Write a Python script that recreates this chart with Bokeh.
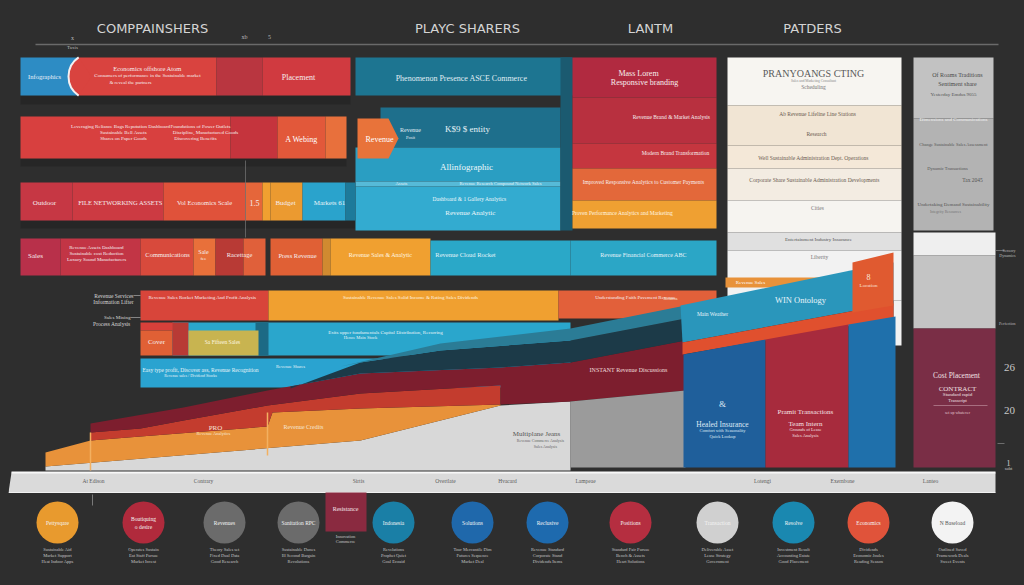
from bokeh.plotting import figure
from bokeh.models import ColumnDataSource, Range1d
from bokeh.embed import file_html
from bokeh.resources import INLINE
from bokeh.core.properties import value

BG = "#2e2e2e"
W, H = 1008, 569

# ---------------- headers ----------------
headers = ["COMPPAINSHERS", "PLAYC SHARERS", "LANTM", "PATDERS"]
header_pos = [152, 467, 650, 812]

# ---------------- blocks: (start, end, top, bottom, colour) ----------------
panel_blocks = [
    (727, 901, 57, 105, "#f7f5f1"), (727, 901, 105, 145, "#f1e5d4"),
    (727, 901, 145, 168, "#f4e8d8"), (727, 901, 168, 200, "#f3ece2"),
    (727, 901, 200, 232, "#f6f4f0"), (727, 901, 232, 250, "#e0e0e0"),
    (727, 901, 250, 300, "#f2f2f2"), (893, 901, 300, 345, "#f2f2f2"),
    (913, 993, 57, 118, "#c2c2c2"), (913, 993, 118, 230, "#b3b3b3"),
    (913, 995, 232, 255, "#efefef"), (913, 995, 255, 328, "#c4c4c4"),
    (913, 995, 328, 467, "#7a2e46"),
]
mid_blocks = [
    (355, 572, 57, 95, "#1d7591"),
    (380, 560, 107, 147, "#1e6f8c"),
    (355, 560, 147, 181, "#2a9ec2"),
    (355, 560, 181, 186, "#56bad8"),
    (355, 560, 186, 230, "#33abd0"),
    (560, 572, 57, 230, "#1b5a70"),
    (572, 716, 57, 97, "#b12a40"), (572, 716, 97, 143, "#b8303f"),
    (572, 716, 143, 168, "#c5363f"), (572, 716, 168, 200, "#e3683a"),
    (572, 716, 200, 228, "#efa032"),
]
row1_blocks = [
    (20, 78, 57, 95, "#2d8cc4"), (78, 216, 57, 95, "#d9433f"),
    (216, 262, 57, 95, "#b93640"), (262, 350, 57, 95, "#d03a40"),
]
row2_blocks = [
    (20, 230, 116, 158, "#d8403f"), (230, 277, 116, 158, "#c5343d"),
    (277, 325, 116, 158, "#e2583a"), (325, 346, 116, 158, "#e8703c"),
]
row3_blocks = [
    (20, 72, 182, 220, "#c63744"), (72, 163, 182, 220, "#cc3a42"),
    (163, 245, 182, 220, "#e0523a"), (245, 262, 182, 220, "#e5663a"),
    (262, 270, 182, 220, "#f0a030"), (270, 302, 182, 220, "#eb9a30"),
    (302, 345, 182, 220, "#2aa3cc"), (345, 355, 182, 220, "#1d7a9a"),
]
row4_blocks = [
    (20, 60, 238, 275, "#b8304a"), (60, 140, 238, 275, "#c23545"),
    (140, 193, 238, 275, "#d84a3c"), (193, 215, 238, 275, "#e8703a"),
    (215, 243, 238, 275, "#b83a35"), (243, 265, 238, 275, "#e0603a"),
    (270, 322, 238, 275, "#e06035"), (322, 330, 238, 275, "#d08a30"),
    (330, 430, 238, 275, "#f0a030"), (430, 570, 240, 275, "#2aa8c8"),
    (570, 716, 240, 275, "#2ba6c6"),
]
row567_blocks = [
    (140, 268, 290, 320, "#d8453a"), (268, 558, 290, 320, "#f0a030"),
    (558, 716, 290, 318, "#e2603a"),
    (172, 570, 322, 355, "#2aa6cc"), (255, 268, 322, 355, "#1c6a85"),
    (140, 173, 322, 330, "#d8403a"), (140, 172, 330, 355, "#e06035"),
    (172, 188, 322, 355, "#b83a35"), (188, 258, 330, 355, "#c8b450"),
    (140, 570, 358, 387, "#2aa3d0"),
    (725, 850, 277, 287, "#e8923a"),
]

# ---------------- area layers (x, y) ----------------
area_light = [(45, 470), (45, 466), (360, 440), (500, 405), (570, 401), (570, 470)]
area_orange = [(45, 466), (45, 452), (90, 440), (140, 436), (267, 426), (272, 412),
               (360, 408), (500, 404), (500, 405), (360, 440)]
area_red = [(90, 440), (90, 432), (140, 428), (183, 420), (267, 405), (360, 393),
            (500, 385), (500, 404), (360, 408), (272, 412), (267, 426), (140, 436)]
area_maroon = [(90, 432), (90, 423), (183, 407), (267, 390), (360, 373), (500, 367),
               (570, 362), (685, 340), (685, 390), (570, 401), (500, 404), (500, 385),
               (360, 393), (267, 405), (183, 420), (140, 428)]
area_dark = [(290, 388), (360, 362), (440, 350), (570, 340), (685, 318), (685, 340),
             (570, 362), (500, 367), (360, 373), (290, 386)]
area_teal = [(340, 366), (440, 343), (570, 328), (685, 305), (685, 318), (570, 340),
             (440, 350), (360, 362)]
area_grey = [(570, 401), (685, 390), (685, 467), (570, 467)]
right_teal = [(680, 305), (850, 270), (893, 262), (893, 303), (682, 342)]
right_band = [(682, 342), (893, 303), (893, 318), (682, 354)]
right_blue1 = [(683, 354), (765, 339), (765, 467), (683, 467)]
right_red = [(765, 339), (848, 324), (848, 467), (765, 467)]
right_blue2 = [(848, 324), (895, 316), (895, 467), (848, 467)]
right_orange = [(852, 262), (893, 252), (893, 305), (852, 312)]
pentagon = [(357, 118), (388, 118), (398, 138), (388, 158), (357, 158)]
base_bar = [(8, 492), (11, 472), (995, 472), (995, 492)]
area_colors = ["#d8d8d8", "#e8923a", "#c33c2e", "#7d1e2e", "#1c3a48", "#2b7c96", "#9b9b9b",
               "#2a96bb", "#e0502e", "#1f5f9b", "#a72b3d", "#1f70ab", "#e05a30", "#e8733a",
               "#dadada"]

# ---------------- circles ----------------
circle_pos = [57, 143, 224, 298, 393, 472, 547, 630, 717, 793, 868, 952]
circle_colors = ["#e89a2e", "#b02a3c", "#6b6b6b", "#6b6b6b", "#1a7fa6", "#1f68ab",
                 "#1e6aae", "#b52e40", "#d0d0d0", "#1a88b0", "#e0533a", "#f3f3f3"]
circle_labels = ["Pettysqare", "Boutiquing", "Revenues", "Sanitation RPC", "Indonesia",
                 "Solutions", "Reclusive", "Positions", "Transaction", "Resolve",
                 "Economics", "N Baseload"]
circle_notes = [
    ["Sustainable Aid", "Market Support", "Heat Indoor Apps"],
    ["Operates Sustain", "Eat Staff Pursue", "Market Invest"],
    ["Theory Sales set", "Fixed Dual Data", "Good Research"],
    ["Sustainable Dunes", "Ill Second Bargain", "Revolutions"],
    ["Revelations", "Prophet Quiet", "Goal Ecoaid"],
    ["Tour Mercantile Dim", "Futures Sequence", "Market Deal"],
    ["Revenue Standard", "Corporate Stand", "Dividends Items"],
    ["Standard Fair Pursue", "Bench & Assets", "Heart Solutions"],
    ["Deliverable Asset", "Lease Strategy", "Government"],
    ["Investment Result", "Accounting Estate", "Good Placement"],
    ["Dividends", "Economic Joules", "Reading Season"],
    ["Outlined Saved", "Framework Deals", "Sweet Events"],
]
base_labels = ["At Edison", "Contrary", "Sirtis", "Overtlate", "Hvacard", "Lampeae",
               "Lotengi", "Exernbone", "Lanteo"]
base_label_pos = [93, 203, 358, 445, 507, 585, 762, 842, 930]

# ---------------- text items: (x, y, text, size, colour, align) ----------------
W_ = "#f6eeee"
row_texts = [
    (44, 76, "Infographics", 6.5, "#e8f0f8", "center"),
    (147, 68, "Economics offshore Atom", 6.5, W_, "center"),
    (147, 75, "Consumers of performance in the Sustainable market", 5, W_, "center"),
    (130, 82, "& reveal the partners", 5, W_, "center"),
    (298, 77, "Placement", 8, W_, "center"),
    (461, 78, "Phenomenon Presence ASCE Commerce", 8, "#e0eef4", "center"),
    (638, 73, "Mass Lorem", 8, W_, "center"),
    (644, 82, "Responsive branding", 8, W_, "center"),
    (671, 116, "Revenue Brand & Market Analysis", 5.5, W_, "center"),
    (675, 152, "Modern Brand Transformation", 5.5, W_, "center"),
    (643, 181, "Improved Responsive Analytics to Customer Payments", 5.5, W_, "center"),
    (622, 212, "Proven Performance Analytics and Marketing", 5.5, "#fff6e0", "center"),
    (410, 129, "Revenue", 6, "#e0eef4", "center"),
    (410, 137, "Posit", 4.5, "#e0eef4", "center"),
    (467, 128, "K$9 $ entity", 9, "#e8f4f8", "center"),
    (466, 166, "Allinfographic", 9, "#eef8fb", "center"),
    (401, 183, "Assets", 4.5, "#e8f4f8", "center"),
    (500, 183, "Revenue Research Compound Network Sales", 4.5, "#e8f4f8", "center"),
    (469, 198, "Dashboard & 1 Gallery Analytics", 5.5, "#eef8fb", "center"),
    (470, 212, "Revenue Analytic", 7, "#eef8fb", "center"),
    (379, 139, "Revenue", 8, "#ffffff", "center"),
    (120, 126, "Leveraging Reliance Bags Reputation Dashboard", 5, W_, "center"),
    (123, 132, "Sustainable Bell Assets", 5, W_, "center"),
    (123, 138, "Shares on Paper Goods", 5, W_, "center"),
    (200, 126, "Foundations of Power Outlets", 5, W_, "center"),
    (205, 132, "Discipline, Manufactured Goods", 5, W_, "center"),
    (195, 138, "Discovering Benefits", 5, W_, "center"),
    (301, 139, "A Webing", 8, "#ffffff", "center"),
    (44, 202, "Outdoor", 7, W_, "center"),
    (120, 202, "FILE NETWORKING ASSETS", 6.5, W_, "center"),
    (204, 202, "Vol Economics Scale", 6.5, W_, "center"),
    (254, 202, "1.5", 8, W_, "center"),
    (285, 202, "Budget", 7, W_, "center"),
    (329, 202, "Markets 61", 7, "#e8f4f8", "center"),
    (35, 255, "Sales", 7, W_, "center"),
    (96, 247, "Revenue Assets Dashboard", 5, W_, "center"),
    (96, 253, "Sustainable cost Reduction", 5, W_, "center"),
    (96, 259, "Luxury Sound Manufacturers", 5, W_, "center"),
    (167, 254, "Communications", 6.5, W_, "center"),
    (203, 251, "Sale", 6, W_, "center"),
    (203, 258, "fee", 5, W_, "center"),
    (239, 254, "Racettage", 6.5, W_, "center"),
    (297, 255, "Press Revenue", 6.5, W_, "center"),
    (380, 254, "Revenue Sales & Analytic", 6, "#fff6e0", "center"),
    (465, 254, "Revenue Cloud Rocket", 6.5, "#e6f4fa", "center"),
    (643, 254, "Revenue Financial Commerce ABC", 6, "#e6f4fa", "center"),
    (202, 297, "Revenue Sales Rocket Marketing And Profit Analysis", 5, W_, "center"),
    (410, 297, "Sustainable Revenue Sales Solid Income & Rating Sales Dividends", 5, "#fff6e0", "center"),
    (635, 297, "Understanding Faith Pavement Revenue", 5, W_, "center"),
    (156, 341, "Cover", 7, W_, "center"),
    (222, 341, "Sa Fifteen Sales", 5.5, "#fff6e0", "center"),
    (385, 332, "Exits upper fundamentals Capital Distribution, Recurring", 5, "#e8f4f8", "center"),
    (360, 337, "Hence Main Stock", 4.5, "#e8f4f8", "center"),
    (200, 369, "Easy type profit, Discover ass, Revenue Recognition", 5.5, "#e8f4f8", "center"),
    (190, 375, "Revenue sales / Dividend Stocks", 4, "#e8f4f8", "center"),
    (290, 366, "Revenue Shares", 4.5, "#e8f4f8", "center"),
    (133, 295, "Revenue Services", 5.5, "#d8d8d8", "right"),
    (133, 301, "Information Lifter", 5.5, "#d8d8d8", "right"),
    (130, 317, "Sales Mining", 5, "#d8d8d8", "right"),
    (130, 323, "Process Analysis", 5.5, "#d8d8d8", "right"),
]
area_texts = [
    (215, 427, "PRO", 7, "#f6e6d6", "center"),
    (213, 433, "Revenue Analytics", 4.5, "#f6e6d6", "center"),
    (303, 426, "Revenue Credits", 6, "#f6e6d6", "center"),
    (536, 433, "Multiplane Jeans", 7, "#555555", "center"),
    (540, 440, "Revenue Commerce Analysis", 4, "#666666", "center"),
    (545, 446, "Sales Analysis", 4, "#666666", "center"),
    (628, 369, "INSTANT Revenue Discussions", 6, "#f0dede", "center"),
    (800, 299, "WIN Ontology", 8.5, "#e8f4fa", "center"),
    (712, 313, "Main Weather", 5.5, "#e8f4fa", "center"),
    (722, 403, "&", 9, "#dde8f4", "center"),
    (722, 424, "Healed Insurance", 7.5, "#dde8f4", "center"),
    (722, 430, "Comfort with Seasonality", 4.5, "#dde8f4", "center"),
    (722, 436, "Quick Lookup", 4.5, "#dde8f4", "center"),
    (805, 411, "Pramit Transactions", 7, "#f4e0e4", "center"),
    (805, 423, "Team Intern", 7, "#f4e0e4", "center"),
    (805, 429, "Grounds of Lease", 4.5, "#f4e0e4", "center"),
    (805, 435, "Sales Analysis", 4.5, "#f4e0e4", "center"),
    (868, 276, "8", 8, "#fbe6dc", "center"),
    (868, 285, "Location", 5, "#fbe6dc", "center"),
    (750, 282, "Revenue Sales", 5, "#ffffff", "center"),
    (670, 298, "Returns", 4.5, "#f6e6d6", "center"),
]
panel_texts = [
    (813, 73, "PRANYOANGS CTING", 10, "#5a5a5a", "center"),
    (813, 80, "Sales and Marketing Consultant", 3.5, "#888888", "center"),
    (813, 86, "Scheduling", 5.5, "#777777", "center"),
    (817, 113, "Ab Revenue Lifeline Line Stations", 5.5, "#6a5a50", "center"),
    (816, 133, "Research", 5.5, "#6a5a50", "center"),
    (813, 157, "Well Sustainable Administration Dept. Operations", 5.5, "#6a5a50", "center"),
    (814, 179, "Corporate Share Sustainable Administration Developments", 5.5, "#6a5a50", "center"),
    (817, 207, "Cities", 5.5, "#777777", "center"),
    (818, 239, "Entertainment Industry Insurance", 5, "#555555", "center"),
    (819, 256, "Libertty", 5.5, "#777777", "center"),
    (957, 74, "Of Roams Traditions", 6, "#4a4a4a", "center"),
    (957, 83, "Sentiment share", 6, "#4a4a4a", "center"),
    (953, 94, "Yesterday Emdus 9055", 5, "#555555", "center"),
    (953, 119, "Dimensions and Communications", 5, "#f4f4f4", "center"),
    (953, 144, "Change Sustainable Sales Assessment", 4.5, "#555555", "center"),
    (947, 168, "Dynamic Transactions", 4.5, "#555555", "center"),
    (972, 179, "Tax 2045", 5.5, "#555555", "center"),
    (953, 204, "Undertaking Demand Sustainability", 5, "#555555", "center"),
    (945, 211, "Integrity Resources", 4, "#777777", "center"),
    (956, 375, "Cost Placement", 7.5, "#f0e0e4", "center"),
    (957, 388, "CONTRACT", 7, "#f0e0e4", "center"),
    (957, 394, "Standard rapid", 5, "#f0e0e4", "center"),
    (957, 400, "Transcript", 4.5, "#f0e0e4", "center"),
    (957, 412, "set up whatever", 4, "#e0c8d0", "center"),
    (1015, 250, "Sensory", 4, "#bbbbbb", "right"),
    (1015, 255, "Dynamics", 4, "#bbbbbb", "right"),
    (1015, 323, "Perfection", 4, "#bbbbbb", "right"),
    (1009, 367, "26", 11, "#c8c8c8", "center"),
    (1009, 410, "20", 11, "#c8c8c8", "center"),
    (1008, 462, "1", 9, "#c8c8c8", "center"),
    (1008, 468, "subt", 4.5, "#c8c8c8", "center"),
    (72, 37, "x", 6, "#bbbbbb", "center"),
    (72, 47, "Taxis", 5, "#bbbbbb", "center"),
    (244, 36, "xb", 6, "#bbbbbb", "center"),
    (269, 36, "5", 6, "#bbbbbb", "center"),
    (345, 508, "Resistance", 6, "#f6e6ea", "center"),
    (345, 536, "Innovation", 4.5, "#c8c8c8", "center"),
    (345, 541, "Commerce", 4.5, "#c8c8c8", "center"),
]

# ---------------- figure ----------------
p = figure(width=W, height=H, x_range=Range1d(8, 8 + W), y_range=Range1d(8 + H, 8),
           x_axis_type=None, y_axis_type=None, toolbar_location=None,
           output_backend="svg", min_border=0)
p.background_fill_color = BG
p.border_fill_color = BG
p.outline_line_color = None
p.grid.visible = False


def draw_blocks(blocks, alpha=1.0):
    src = ColumnDataSource(dict(
        left=[b[0] for b in blocks], right=[b[1] for b in blocks],
        top=[b[2] for b in blocks], bottom=[b[3] for b in blocks],
        color=[b[4] for b in blocks]))
    p.quad(left="left", right="right", top="top", bottom="bottom", fill_color="color",
           line_color=None, fill_alpha=alpha, source=src)


def draw_polys(polys, colors):
    p.patches(xs=[[pt[0] for pt in pl] for pl in polys],
              ys=[[pt[1] for pt in pl] for pl in polys],
              fill_color=colors, line_color=None)


# soft shadows under the first rows
draw_blocks([(20, 350, 95, 104, "#262626"), (20, 346, 158, 166, "#262626"),
             (20, 355, 220, 228, "#262626")])
draw_blocks(panel_blocks)
draw_blocks(mid_blocks)
draw_blocks(row1_blocks)
# curved white edge between the blue and red segments of the first row
p.wedge(x=[91], y=[76], radius=23, start_angle=124, end_angle=236, start_angle_units="deg",
        end_angle_units="deg", fill_color="#d9433f", line_color=None)
p.arc(x=[91], y=[76], radius=23, start_angle=124, end_angle=236, start_angle_units="deg",
      end_angle_units="deg", line_color="#f4f0f0", line_width=2)
draw_blocks(row2_blocks)
draw_blocks(row3_blocks)
draw_blocks(row4_blocks)
draw_blocks(row567_blocks)

polys = [area_light, area_orange, area_red, area_maroon, area_dark, area_teal, area_grey,
         right_teal, right_band, right_blue1, right_red, right_blue2, right_orange,
         pentagon, base_bar]
draw_polys(polys, area_colors)

# thin rules
p.segment(x0=[35, 133, 130, 245, 90, 267, 933, 995, 997, 92],
          y0=[44, 295, 317, 160, 432, 412, 405, 250, 443, 494],
          x1=[998, 140, 140, 245, 90, 267, 987, 1004, 1004, 92],
          y1=[44, 295, 317, 237, 470, 455, 405, 250, 443, 505],
          line_color=["#6a6a6a", "#aaaaaa", "#aaaaaa", "#777777", "#f3b060", "#f3b060",
                      "#c89aa8", "#888888", "#888888", "#999999"],
          line_width=[1.5, 0.7, 0.7, 0.7, 1.5, 1.5, 0.6, 0.7, 0.7, 0.7])
p.segment(x0=[11], y0=[472], x1=[995], y1=[472], line_color="#f8f8f8", line_width=2)
p.segment(x0=[8], y0=[492], x1=[995], y1=[492], line_color="#f0f0f0", line_width=1)

# circles + square
p.circle(x=circle_pos, y=[522] * len(circle_pos), radius=21, fill_color=circle_colors,
         line_color=None)
p.quad(left=[325], right=[366], top=[492], bottom=[531], fill_color="#8a2a40", line_color=None)

# ---------------- texts ----------------
items = row_texts + area_texts + panel_texts
circ_items = []
for i, (cx, lab) in enumerate(zip(circle_pos, circle_labels)):
    col = "#555555" if circle_colors[i] == "#f3f3f3" else "#f4f4f4"
    if lab == "Boutiquing":
        circ_items.append((cx, 518, lab, 5.5, col, "center"))
        circ_items.append((cx, 526, "o desire", 5.5, col, "center"))
    else:
        circ_items.append((cx, 522, lab, 5.5, col, "center"))
    for j, note in enumerate(circle_notes[i]):
        circ_items.append((cx, 549 + 6 * j, note, 4.5, "#c4c4c4", "center"))
for bx, bl in zip(base_label_pos, base_labels):
    circ_items.append((bx, 480, bl, 5.5, "#5a5a5a", "center"))
items = items + circ_items

src = ColumnDataSource(dict(
    x=[t[0] for t in items], y=[t[1] for t in items], text=[t[2] for t in items],
    fsize=["%.1fpx" % t[3] for t in items], tcolor=[t[4] for t in items],
    talign=[t[5] for t in items]))
p.text(x="x", y="y", text="text", text_font_size="fsize", text_color="tcolor",
       text_align="talign", text_baseline="middle", text_font=value("Liberation Serif"),
       source=src)

p.text(x=header_pos, y=[28] * 4, text=headers, text_font=value("DejaVu Sans"),
       text_font_size="13px", text_color="#d4d4d4", text_align="center",
       text_baseline="middle")

html = file_html(p, INLINE, title="chart")
style = ("<style>html,body{margin:0 !important;height:auto !important;}"
         "body{padding:8px !important;background:%s !important;"
         "overflow:hidden !important;}</style>" % BG)
html = html.replace("</head>", style + "</head>", 1)
open("out.html", "w").write(html)
